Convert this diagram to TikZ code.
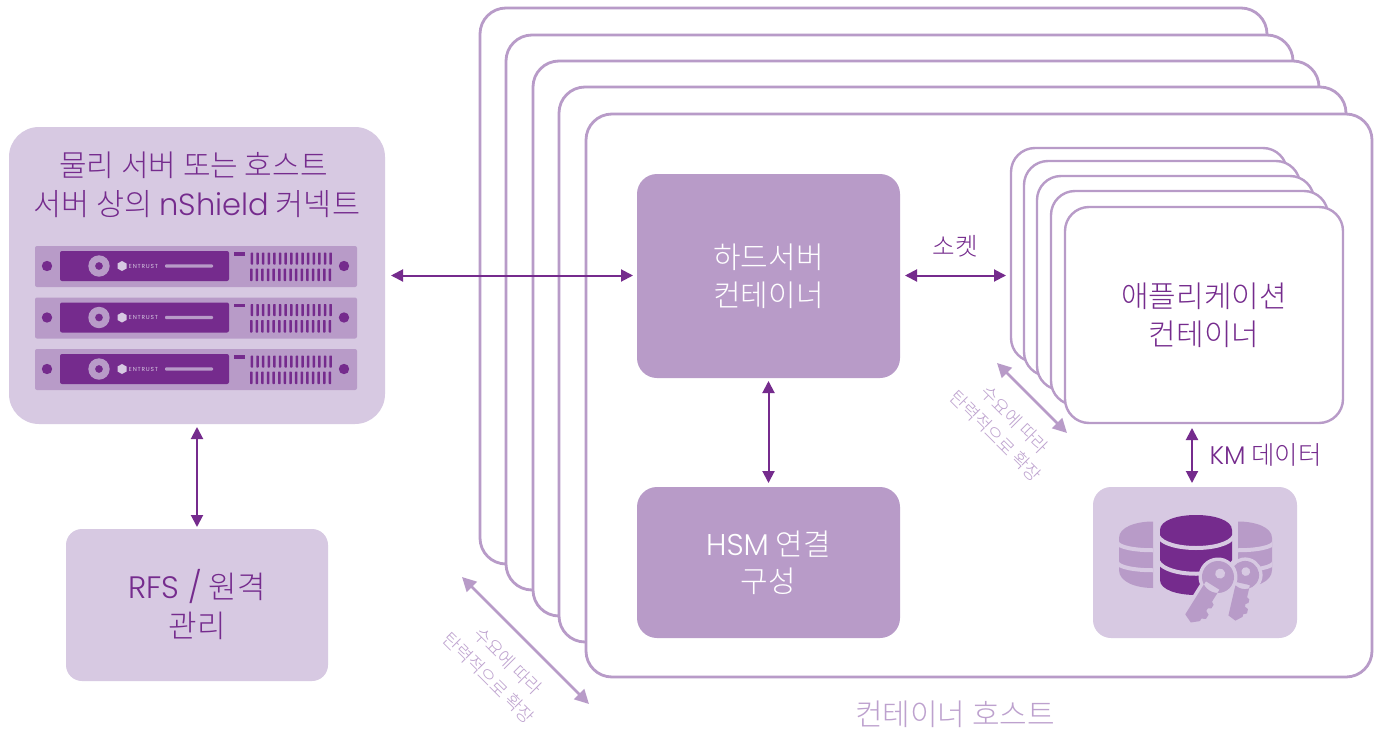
\documentclass[tikz,border=0pt]{standalone}
\usepackage{fontspec}
\setmainfont{Noto Sans CJK KR}[UprightFont=* Light]
\newfontfamily\latf{Poppins}[UprightFont=* Light]
\newfontfamily\latw{Poppins}[LetterSpace=14]
\newcommand\lat[1]{{\latf #1}}
\newcommand\fs[1]{\fontsize{#1}{#1}\selectfont}
\definecolor{pdark}{HTML}{752B8D}
\definecolor{pmid}{HTML}{B89BC8}
\definecolor{plight}{HTML}{D7C9E2}
\definecolor{ptext}{HTML}{BDA1CE}
\usetikzlibrary{arrows.meta}
\tikzset{
  x=1pt,y=-1pt,
  solidbox/.style={inner sep=0,outer sep=0,rounded corners=#1,align=center},
  midbox/.style={solidbox=20,fill=pmid,text=white,font=\fs{30}},
  lightbox/.style={solidbox=#1,fill=plight,text=pdark,font=\fs{30}},
  framebox/.style={solidbox=#1,draw=pmid,fill=white,line width=2.8pt},
  dblarrow/.style={draw=pdark,line width=2pt,{Triangle[length=12pt,width=12pt]}-{Triangle[length=12pt,width=12pt]}},
  softarrow/.style={draw=pmid,line width=2.6pt,{Triangle[length=14pt,width=14pt]}-{Triangle[length=14pt,width=14pt]}},
  lbl/.style={text=pdark,inner sep=0,align=center},
  scaletext/.style={text=ptext,inner sep=0,rotate=-45,font=\fs{18}},
  halo/.style={draw=plight,fill=plight,line width=7pt,line join=round},
  keyfill/.style={fill=pmid,draw=none},
}
\newcommand\keyshape{%
  (0,0) circle[radius=16]
  (-8,10) -- (-8,49) -- (1,53) -- (8,47) -- (8,44) -- (12,42) -- (12,37) -- (8,35) -- (8,32) -- (11,30) -- (11,26) -- (8,24) -- (8,10) -- cycle}
\newcommand\keyicon[4]{%
  \begin{scope}[shift={(#1,#2)},rotate=#3,scale=#4]
    \path[halo] \keyshape;
    \path[keyfill] \keyshape;
    \fill[plight] (0,-4) circle[radius=5];
  \end{scope}}
\begin{document}
\begin{tikzpicture}
\useasboundingbox (0,0) rectangle (1382,731);
\fill[white] (0,0) rectangle (1382,731);
% host stack
\foreach \n/\l/\t/\r/\b in {h1/480/8/1267/564,h2/506/35/1293/590,h3/533/61/1319/616,h4/559/87/1346/642}{
  \draw[draw=pmid,fill=white,line width=2.8pt,rounded corners=26] (\l,\t) rectangle (\r,\b);
}
\node[framebox=26,minimum width=786,minimum height=563] (host) at (979,395.5) {};
\node[text=ptext,inner sep=0,font=\fs{30}] (hostlabel) at (955,714) {컨테이너 호스트};
% left
\node[lightbox=30,minimum width=376,minimum height=297] (phys) at (197,275.5) {};
\node[lbl,font=\fs{30}] (t1) at (193.5,165.5) {물리 서버 또는 호스트};
\node[lbl,font=\fs{30.5}] (t2) at (197,204.5) {서버 상의 \lat{nShield} 커넥트};
\foreach \i/\y in {1/246,2/297.5,3/349}{
  \begin{scope}[yshift=-\y pt]
    \fill[pmid,rounded corners=2] (35,0) rectangle (357,41);
    \fill[pdark,rounded corners=2] (60,5) rectangle (229,35);
    \fill[pdark] (47,20) circle[radius=5.2] (344,20) circle[radius=5.2];
    \fill[pmid,even odd rule] (99,20) circle[radius=10.7] (99,20) circle[radius=4];
    \fill[plight] (122,15) -- (126.5,17.5) -- (126.5,22.5) -- (122,25) -- (117.5,22.5) -- (117.5,17.5) -- cycle;
    \node[inner sep=0,text=plight,font=\fs{5.8}] (ent\i) at (143.5,20) {\latw ENTRUST};
    \fill[pmid,rounded corners=1] (165,18.3) rectangle (213,21.7);
    \fill[pdark] (234,6) rectangle (245,9.5);
    \foreach \k in {0,...,14}{
      \fill[pdark,rounded corners=.6] ({250.7+5.62*\k},6.5) rectangle ({253.2+5.62*\k},18.5);
      \fill[pdark,rounded corners=.6] ({250+5.62*\k},22.5) rectangle ({252.5+5.62*\k},35);
    }
  \end{scope}
}
\node[lightbox=16,minimum width=262,minimum height=152,font=\fs{31}] (rfs) at (197,605) {\raisebox{1pt}{\lat{RFS /} 원격}\\[7pt]관리};
% centre
\node[midbox,minimum width=263,minimum height=204] (hard) at (768.5,276) {\raisebox{2pt}{하드서버}\\[6pt]컨테이너};
\node[midbox,minimum width=263,minimum height=151] (hsm) at (768.5,562.5) {\raisebox{1pt}{\lat{HSM} 연결}\\[6pt]구성};
% app stack
\foreach \n/\l/\t/\r/\b in {a1/1011/148/1287/362,a2/1024/161/1300/376,a3/1037/176/1314/390,a4/1051/191/1328/405}{
  \draw[draw=pmid,fill=white,line width=2.4pt,rounded corners=24] (\l,\t) rectangle (\r,\b);
}
\node[framebox=24,line width=2.4pt,minimum width=278,minimum height=216,text=pdark,font=\fs{30}] (app) at (1204,315) {애플리케이션\\[8pt]컨테이너};
% db
\node[lightbox=18,minimum width=204,minimum height=151] (db) at (1195,562.5) {};
\begin{scope}
  \clip (1119,515) rectangle (1153,600);
  \fill[pmid] (1119,538) .. controls (1119,516) and (1187,516) .. (1187,538) -- (1187,570) .. controls (1187,594) and (1119,594) .. (1119,570) -- cycle;
  \draw[plight,line width=4pt] (1117,542) .. controls (1119,553) and (1187,553) .. (1189,542);
  \draw[plight,line width=4pt] (1117,562) .. controls (1119,573) and (1187,573) .. (1189,562);
\end{scope}
\begin{scope}
  \clip (1238,515) rectangle (1272,600);
  \fill[pmid] (1204,538) .. controls (1204,516) and (1272,516) .. (1272,538) -- (1272,570) .. controls (1272,594) and (1204,594) .. (1204,570) -- cycle;
  \draw[plight,line width=4pt] (1202,542) .. controls (1204,553) and (1272,553) .. (1274,542);
  \draw[plight,line width=4pt] (1202,562) .. controls (1204,573) and (1272,573) .. (1274,562);
\end{scope}
\fill[pdark] (1160,530) .. controls (1160,510) and (1232,510) .. (1232,530) -- (1232,580) .. controls (1232,600) and (1160,600) .. (1160,580) -- cycle;
\draw[plight,line width=4pt] (1158,536) .. controls (1166,552) and (1226,552) .. (1234,536);
\draw[plight,line width=4pt] (1158,561) .. controls (1166,578) and (1226,578) .. (1234,561);
\keyicon{1245}{575}{-13}{.88}
\keyicon{1218}{577}{-32}{1}
% labels
\node[lbl,font=\fs{24.5}] (sock) at (955,246.5) {소켓};
\node[lbl,font=\fs{25.5}] (km) at (1265.5,454.5) {\lat{KM} 데이터};
\node[scaletext] (s1a) at (508,661) {수요에 따라};
\node[scaletext] (s1b) at (489,678) {탄력적으로 확장};
\node[scaletext] (s2a) at (1014.5,419.5) {수요에 따라};
\node[scaletext] (s2b) at (996,436) {탄력적으로 확장};
% connectors
\coordinate (sockL) at (905,275.5);
\coordinate (sockR) at (1006,275.5);
\coordinate (physR) at (391,275.5);
\coordinate (hardL) at (633,275.5);
\coordinate (kmT) at (1192,428);
\coordinate (kmB) at (1192,483);
\coordinate (rfsT) at (197,527);
\coordinate (physB) at (197,427);
\coordinate (hardB) at (768.5,381);
\coordinate (hsmT) at (768.5,483);
\coordinate (sa) at (462,577);
\coordinate (sb) at (589,704);
\coordinate (sc) at (997,363);
\coordinate (sd) at (1067,433);
\draw[dblarrow] (physR) -- (hardL);
\draw[dblarrow] (sockL) -- (sockR);
\draw[dblarrow] (hardB) -- (hsmT);
\draw[dblarrow] (kmT) -- (kmB);
\draw[dblarrow] (physB) -- (rfsT);
\draw[softarrow] (sa) -- (sb);
\draw[softarrow] (sc) -- (sd);
\end{tikzpicture}
\end{document}
